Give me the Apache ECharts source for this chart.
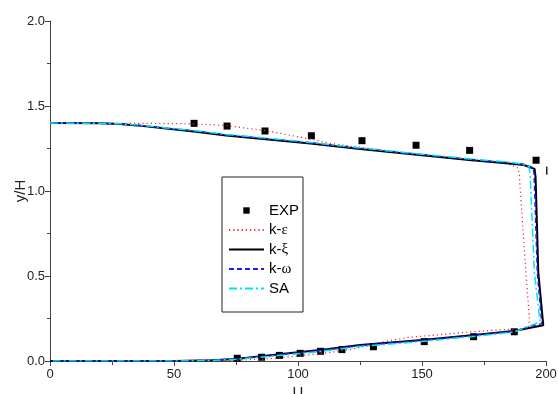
<!DOCTYPE html>
<html><head><meta charset="utf-8">
<script src="https://cdn.jsdelivr.net/npm/echarts@6/dist/echarts.min.js"></script>
<style>html,body{margin:0;padding:0;background:#fff}#c{width:558px;height:394px}</style>
</head><body><div id="c"></div>
<script>
// ---- data ----
var xTicks = [0, 50, 100, 150, 200];
var yTicks = [0.0, 0.5, 1.0, 1.5, 2.0];
var seriesNames = ['EXP', 'k-ε', 'k-ξ', 'k-ω', 'SA'];

var expData = [
  [58.1,1.398],[71.4,1.382],[86.7,1.353],[105.4,1.325],[125.8,1.296],[147.6,1.269],[169.2,1.239],[196,1.181],
  [75.5,0.016],[85.3,0.022],[92.5,0.033],[100.9,0.045],[109.1,0.057],[117.7,0.067],[130.4,0.084],[150.9,0.114],[170.8,0.143],[187.2,0.172]
];
var kEps = [
  [0,1.40],[30,1.398],[45,1.397],[58,1.395],[71,1.385],[87,1.355],[105,1.305],[113,1.28],[126,1.255],[148,1.215],[169,1.188],[183,1.165],[186,1.152],[188.8,1.135],[189.2,1.10],[191.9,0.52],[193.3,0.25],[193,0.2],[190,0.19],[180,0.182],[170,0.172],[155,0.152],[145,0.14],[135,0.115],[130,0.095],[120,0.065],[110,0.045],[100,0.03],[90,0.015],[75,0.003],[60,0],[0,0]
];
var kXi = [
  [0,1.40],[20,1.398],[28,1.394],[35,1.386],[45,1.37],[58,1.35],[71,1.327],[87,1.305],[105,1.28],[126,1.245],[148,1.213],[169,1.183],[185,1.162],[191,1.153],[195.4,1.13],[195.8,1.08],[196.9,0.52],[198.9,0.21],[187,0.176],[170,0.151],[150,0.124],[125,0.094],[110,0.066],[100,0.052],[85,0.028],[75,0.012],[65,0.004],[50,0],[0,0]
];
var kOmega = [
  [0,1.40],[20,1.398],[28,1.395],[35,1.388],[45,1.373],[58,1.354],[71,1.331],[87,1.309],[105,1.284],[126,1.25],[148,1.217],[169,1.187],[185,1.166],[191,1.157],[194.8,1.137],[195.2,1.10],[196.5,0.52],[198.3,0.22],[187,0.175],[170,0.149],[150,0.121],[125,0.091],[110,0.063],[100,0.049],[85,0.026],[75,0.011],[65,0.004],[50,0],[0,0]
];
var saData = [
  [0,1.40],[20,1.398],[28,1.395],[35,1.389],[45,1.374],[58,1.356],[71,1.333],[87,1.311],[105,1.286],[126,1.252],[148,1.219],[169,1.189],[185,1.17],[190,1.16],[193.1,1.145],[193.6,1.10],[195.3,0.52],[197.6,0.23],[187,0.17],[170,0.143],[150,0.115],[125,0.085],[110,0.057],[100,0.043],[85,0.022],[75,0.01],[65,0.003],[50,0],[0,0]
];
var strayMark = [[200.3,1.12]];

// ---- chart ----
var chart = echarts.init(document.getElementById('c'));
var greek = {fontFamily:'Liberation Serif', fontSize:15, color:'#000'};
function lineSeries(name, data, color, width, type, z) {
  return {name:name, type:'line', data:data, symbol:'none', z:z, silent:true,
    lineStyle:{color:color, width:width, type:type}, itemStyle:{color:color}, animation:false};
}
var legendData = seriesNames.map(function(n){
  return n === 'EXP' ? {name:n} : {name:n, itemStyle:{opacity:0}};
});
chart.setOption({
  animation:false,
  backgroundColor:'#fff',
  textStyle:{fontFamily:'Liberation Sans'},
  grid:{left:50, right:12, top:21, bottom:33, containLabel:false, outerBoundsMode:'none'},
  legend:{
    orient:'vertical', left:222, top:177,
    padding:[26,4,16,6], itemGap:4.5, itemWidth:35, itemHeight:8,
    borderColor:'#222', borderWidth:1, backgroundColor:'#fff',
    textStyle:{fontSize:15, color:'#000', fontFamily:'Liberation Sans',
      rich:{a:{fontSize:15, fontFamily:'Liberation Sans', color:'#000'}, g:greek}},
    formatter:function(n){
      if (n.indexOf('k-')===0) return '{a|k-}{g|' + n.slice(2) + '}';
      return n;
    },
    data:legendData
  },
  xAxis:{
    type:'value', min:xTicks[0], max:xTicks[xTicks.length-1], interval:50,
    name:'U', nameLocation:'middle', nameGap:24, nameMoveOverlap:false,
    nameTextStyle:{fontSize:15, color:'#222', fontFamily:'Liberation Sans'},
    axisLine:{show:true, lineStyle:{color:'#444', width:1}},
    axisTick:{show:true, length:5, lineStyle:{color:'#444'}},
    minorTick:{show:true, splitNumber:2, length:4, lineStyle:{color:'#444'}},
    splitLine:{show:false},
    axisLabel:{fontSize:13, color:'#222', margin:7}
  },
  yAxis:{
    type:'value', min:yTicks[0], max:yTicks[yTicks.length-1], interval:0.5,
    name:'y/H', nameLocation:'middle', nameGap:22, nameRotate:90, nameMoveOverlap:false,
    nameTextStyle:{fontSize:15, color:'#222', fontFamily:'Liberation Sans'},
    axisLine:{show:true, lineStyle:{color:'#444', width:1}},
    axisTick:{show:true, length:5, lineStyle:{color:'#444'}},
    minorTick:{show:true, splitNumber:2, length:3, lineStyle:{color:'#444'}},
    splitLine:{show:false},
    axisLabel:{fontSize:13, color:'#222', margin:5, formatter:function(v){return v.toFixed(1);}}
  },
  series:[
    {name:'EXP', type:'line', data:expData, symbol:'rect', symbolSize:7, showSymbol:true, z:2,
      lineStyle:{width:0, opacity:0}, itemStyle:{color:'#000'}},
    lineSeries('k-ε', kEps, '#ff2020', 1.2, [1.2,3], 3),
    lineSeries('k-ξ', kXi, '#000000', 2, 'solid', 4),
    lineSeries('k-ω', kOmega, '#1a1aff', 1.5, [5,3], 5),
    lineSeries('SA', saData, '#00e5f0', 1.5, [8,3,2,3], 6),
    {name:'mark', type:'line', data:strayMark, symbol:'rect', symbolSize:[1.5,8], z:7, clip:false,
      lineStyle:{width:0}, itemStyle:{color:'#222'}}
  ]
});
</script></body></html>
